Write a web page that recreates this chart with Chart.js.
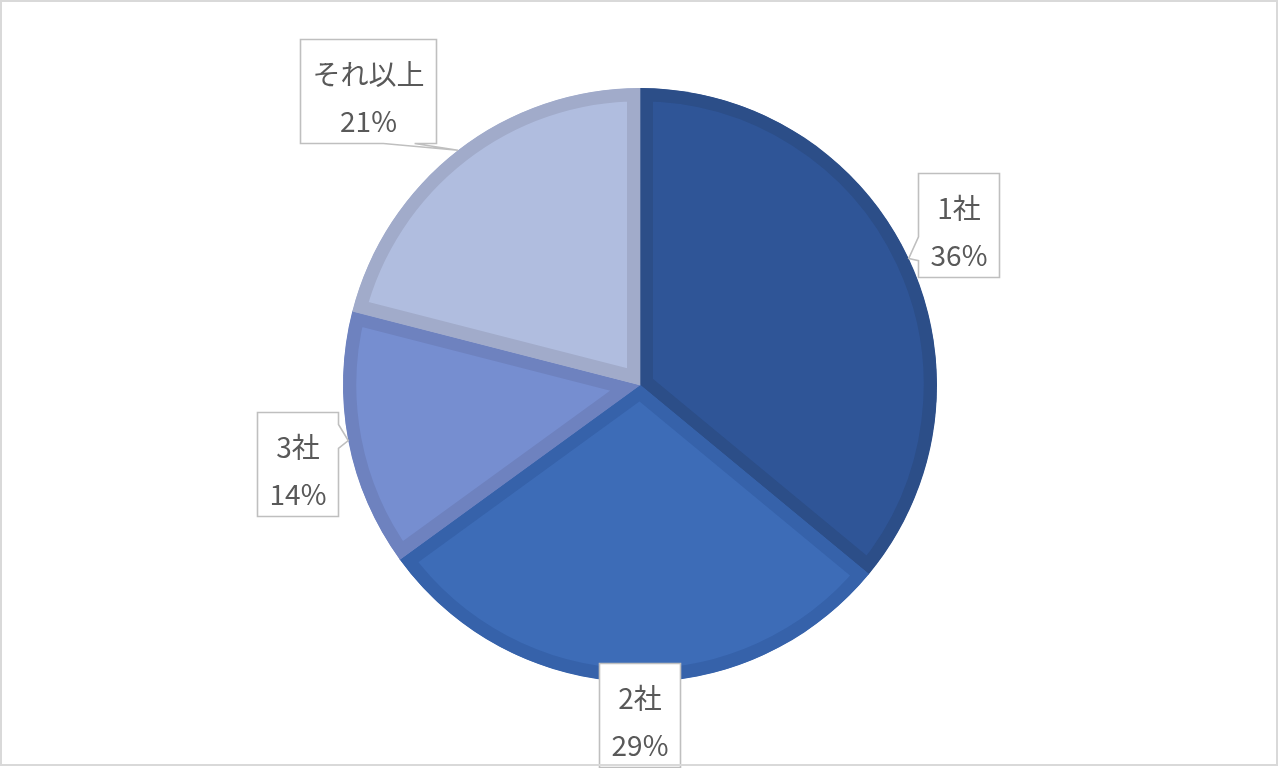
<!DOCTYPE html>
<html><head><meta charset="utf-8">
<script src="https://cdn.jsdelivr.net/npm/chart.js@4.4.0/dist/chart.umd.min.js"></script>
<style>html,body{margin:0;padding:0;background:#fff;overflow:hidden}#wrap{width:1280px;height:768px;position:relative}</style>
</head><body><div id="wrap"><canvas id="c"></canvas></div>
<script>
const categories = ['1社', '2社', '3社', 'それ以上'];
const values = [36, 29, 14, 21];

const fillColors = ['#2F5597', '#3D6CB7', '#768ED0', '#B0BDDF'];
const borderColors = ['#2C4E88', '#3662AA', '#6E82BF', '#A1ABCA'];

const calloutPlugin = {
  id: 'callouts',
  afterDatasetsDraw(chart, args, opts) {
    const ctx = chart.ctx;
    const meta = chart.getDatasetMeta(0);
    const total = values.reduce((a, b) => a + b, 0);
    ctx.save();
    ctx.font = opts.font;
    meta.data.forEach((arc, i) => {
      const p = arc.getProps(['x', 'y', 'startAngle', 'endAngle', 'outerRadius'], true);
      const mid = (p.startAngle + p.endAngle) / 2;
      const ax = p.x + Math.cos(mid) * p.outerRadius;
      const ay = p.y + Math.sin(mid) * p.outerRadius;
      const lines = [categories[i], Math.round(values[i] / total * 100) + '%'];
      const tw = Math.max(...lines.map(l => ctx.measureText(l).width));
      const w = Math.round(tw + 2 * opts.padX), h = opts.boxH;
      const [dx, dy] = opts.offsets[i];
      const cx = ax + dx, cy = ay + dy;
      const L = Math.round(cx - w / 2) + 0.5, T = Math.round(cy - h / 2) + 0.5;
      const R = L + w, B = T + h;
      const outX = ax < L || ax > R, outY = ay < T || ay > B;
      let side = null;
      if (outY) side = ay > B ? 'bottom' : 'top';
      else if (outX) side = ax < L ? 'left' : 'right';
      const base = (len, proj) => {
        const lb = len * 0.23;
        const c = Math.min(Math.max(proj - 8, lb), len - 1.2 * lb);
        return [c - lb / 2, c + lb / 2];
      };
      ctx.beginPath();
      ctx.moveTo(L, T);
      if (side === 'top') {
        const [a, b] = base(w, Math.min(Math.max(ax - L, 0), w));
        ctx.lineTo(L + a, T); ctx.lineTo(ax, ay); ctx.lineTo(L + b, T);
      }
      ctx.lineTo(R, T);
      if (side === 'right') {
        const [a, b] = base(h, Math.min(Math.max(ay - T, 0), h));
        ctx.lineTo(R, T + a); ctx.lineTo(ax, ay); ctx.lineTo(R, T + b);
      }
      ctx.lineTo(R, B);
      if (side === 'bottom') {
        const [a, b] = base(w, Math.min(Math.max(ax - L, 0), w));
        ctx.lineTo(L + b, B); ctx.lineTo(ax, ay); ctx.lineTo(L + a, B);
      }
      ctx.lineTo(L, B);
      if (side === 'left') {
        const [a, b] = base(h, Math.min(Math.max(ay - T, 0), h));
        ctx.lineTo(L, T + b); ctx.lineTo(ax, ay); ctx.lineTo(L, T + a);
      }
      ctx.closePath();
      ctx.fillStyle = '#FFFFFF';
      ctx.fill();
      ctx.strokeStyle = opts.boxBorder;
      ctx.lineWidth = 1.6;
      ctx.lineJoin = 'miter';
      ctx.stroke();
      ctx.fillStyle = opts.color;
      ctx.textAlign = 'center';
      ctx.textBaseline = 'middle';
      const mx = (L + R) / 2, my = (T + B) / 2;
      ctx.fillText(lines[0], mx, my + opts.line1);
      ctx.fillText(lines[1], mx, my + opts.line2);
    });
    ctx.restore();
  },
  afterDraw(chart) {
    const ctx = chart.ctx;
    ctx.save();
    ctx.strokeStyle = '#D9D9D9';
    ctx.lineWidth = 2;
    ctx.strokeRect(1, 1, 1276, 764);
    ctx.restore();
  }
};

new Chart(document.getElementById('c'), {
  type: 'pie',
  data: {
    labels: categories,
    datasets: [{
      data: values,
      backgroundColor: fillColors,
      borderColor: borderColors,
      borderWidth: 13,
      borderAlign: 'inner',
      borderJoinStyle: 'miter'
    }]
  },
  options: {
    responsive: true,
    maintainAspectRatio: false,
    devicePixelRatio: 1,
    animation: false,
    events: [],
    layout: { padding: { top: 88, bottom: 86, left: 0, right: 0 } },
    plugins: {
      legend: { display: false },
      tooltip: { enabled: false },
      callouts: {
        font: '28px "Noto Sans CJK JP", "Noto Sans", sans-serif',
        color: '#595959',
        boxBorder: '#BFBFBF',
        padX: 12,
        boxH: 104,
        line1: -17,
        line2: 30,
        offsets: [[50, -34], [9, 33], [-51, 23], [-90, -59]]
      }
    }
  },
  plugins: [calloutPlugin]
});
</script>
</body></html>
